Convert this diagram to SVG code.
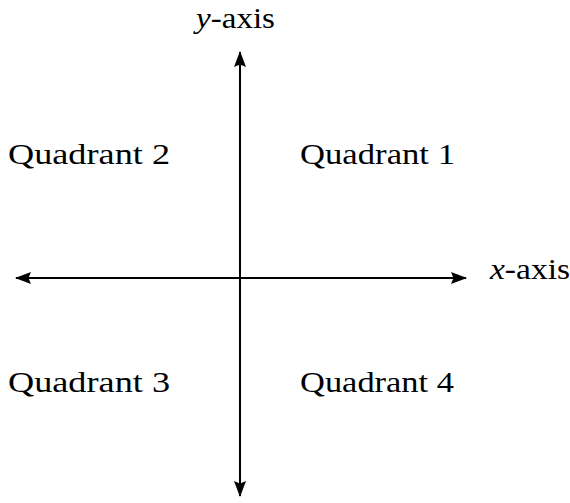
<svg xmlns="http://www.w3.org/2000/svg" width="570" height="503" viewBox="0 0 570 503">
<style>
text{font-family:'Liberation Serif',Tinos,'Times New Roman',serif;font-size:30px;fill:#000}
.ax{stroke:#000;stroke-width:2;fill:none}
</style>
<defs>
<marker id="ah" viewBox="0 0 16 12" refX="15" refY="6" markerWidth="16" markerHeight="12" markerUnits="userSpaceOnUse" orient="auto-start-reverse">
<path d="M0,0 L16,6 L0,12 L2.5,6 Z" fill="#000"/>
</marker>
</defs>
<rect width="570" height="503" fill="#fff"/>
<g id="connectors">
<line class="ax" x1="16" y1="278" x2="466" y2="278" marker-start="url(#ah)" marker-end="url(#ah)"/>
<line class="ax" x1="240" y1="52" x2="240" y2="496" marker-start="url(#ah)" marker-end="url(#ah)"/>
</g>
<g id="y-axis-label"><text x="196" y="28" font-family="Liberation Serif, serif" textLength="79" lengthAdjust="spacingAndGlyphs"><tspan font-style="italic">y</tspan>-axis</text></g>
<g id="x-axis-label"><text x="490" y="279" font-family="Liberation Serif, serif" textLength="80" lengthAdjust="spacingAndGlyphs"><tspan font-style="italic">x</tspan>-axis</text></g>
<g id="q1"><text x="300" y="164" font-family="Liberation Serif, serif" textLength="155" lengthAdjust="spacingAndGlyphs">Quadrant 1</text></g>
<g id="q2"><text x="8" y="164" font-family="Liberation Serif, serif" textLength="162" lengthAdjust="spacingAndGlyphs">Quadrant 2</text></g>
<g id="q3"><text x="8" y="392" font-family="Liberation Serif, serif" textLength="162" lengthAdjust="spacingAndGlyphs">Quadrant 3</text></g>
<g id="q4"><text x="300" y="392" font-family="Liberation Serif, serif" textLength="154" lengthAdjust="spacingAndGlyphs">Quadrant 4</text></g>
</svg>
